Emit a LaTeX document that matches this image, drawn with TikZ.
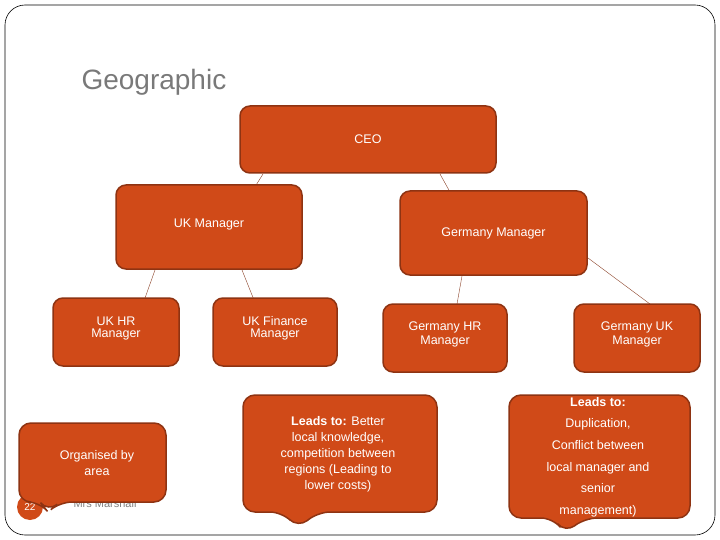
\documentclass[tikz,border=0pt]{standalone}
\usepackage{fontspec}
\setmainfont{Liberation Sans}
\begin{document}
\begin{tikzpicture}[x=1pt,y=-1pt,
  box/.style={draw=brd,line width=1.5pt,fill=org,rounded corners=10pt,text=white,align=center,font=\fontsize{12.5}{15}\selectfont,inner sep=0pt},
  call/.style={draw=brd,line width=1.5pt,fill=org,rounded corners=12pt},
  ctext/.style={text=white,align=center,font=\fontsize{12.5}{16}\selectfont},
  link/.style={draw=brd!80!gray,line width=0.4pt}]
\definecolor{org}{HTML}{D04A18}
\definecolor{brd}{HTML}{8E3312}
\useasboundingbox (0,0) rectangle (720,540);
\draw[line width=0.6pt,rounded corners=20pt] (5,5) rectangle (715,535);
\node[text=gray!95!black,font=\fontsize{28}{30}\selectfont,anchor=west] (title) at (78,82) {Geographic};
% connectors
\coordinate (c1) at (263,174); \coordinate (c2) at (253,190);
\coordinate (c3) at (440,174); \coordinate (c4) at (450,192);
\coordinate (c5) at (155,270); \coordinate (c6) at (145,298);
\coordinate (c7) at (242,270); \coordinate (c8) at (258,310);
\coordinate (c9) at (462,276); \coordinate (c10) at (457,304);
\coordinate (c11) at (588,258); \coordinate (c12) at (650,304);
\draw[link] (c1)--(c2) (c3)--(c4) (c5)--(c6) (c7)--(c8) (c9)--(c10) (c11)--(c12);
\node[box,minimum width=256pt,minimum height=67pt] (ceo) at (368,139.5) {CEO};
\node[box,minimum width=186pt,minimum height=84pt] (ukm) at (209,227) {\raisebox{8pt}{UK Manager}};
\node[box,minimum width=187pt,minimum height=84pt] (gm) at (493.5,233) {Germany Manager};
\node[box,minimum width=126pt,minimum height=68pt] (ukhr) at (116,332) {\raisebox{10pt}{\shortstack{UK HR\\Manager}}};
\node[box,minimum width=124pt,minimum height=68pt] (ukf) at (275,332) {\raisebox{10pt}{\shortstack{UK Finance\\Manager}}};
\node[box,minimum width=124pt,minimum height=68pt] (ghr) at (445,338) {\raisebox{10pt}{\shortstack{Germany HR\\Manager}}};
\node[box,minimum width=126pt,minimum height=68pt] (guk) at (637,338) {\raisebox{10pt}{\shortstack{Germany UK\\Manager}}};
% footer
\node[text=gray,font=\fontsize{11}{12}\selectfont,anchor=west] (mm) at (70,504) {Mrs Marshall};
\node[circle,fill=org,minimum size=26pt,inner sep=0pt,text=white,font=\fontsize{10}{12}\selectfont] (pg) at (30,507) {22};
% callouts
\draw[call] (19,423) -- (166,423) -- (166,502) -- (60,502) -- (48,512) -- (40,502) -- (19,502) -- cycle;
\node[ctext] (t1) at (97,463) {Organised by\\area};
\draw[call] (243,395) -- (437,395) -- (437,512) -- (318,512) -- (298,528) -- (282,512) -- (243,512) -- cycle;
\node[ctext] (t2) at (338,454) {\textbf{Leads to:} Better\\local knowledge,\\competition between\\regions (Leading to\\lower costs)};
\draw[call] (509,395) -- (690,395) -- (690,518) -- (585,518) -- (565,533) -- (553,518) -- (509,518) -- cycle;
\node[ctext,font=\fontsize{12.5}{21.6}\selectfont] (t3) at (598,457) {\textbf{Leads to:}\\Duplication,\\Conflict between\\local manager and\\senior\\management)};
\end{tikzpicture}
\end{document}
